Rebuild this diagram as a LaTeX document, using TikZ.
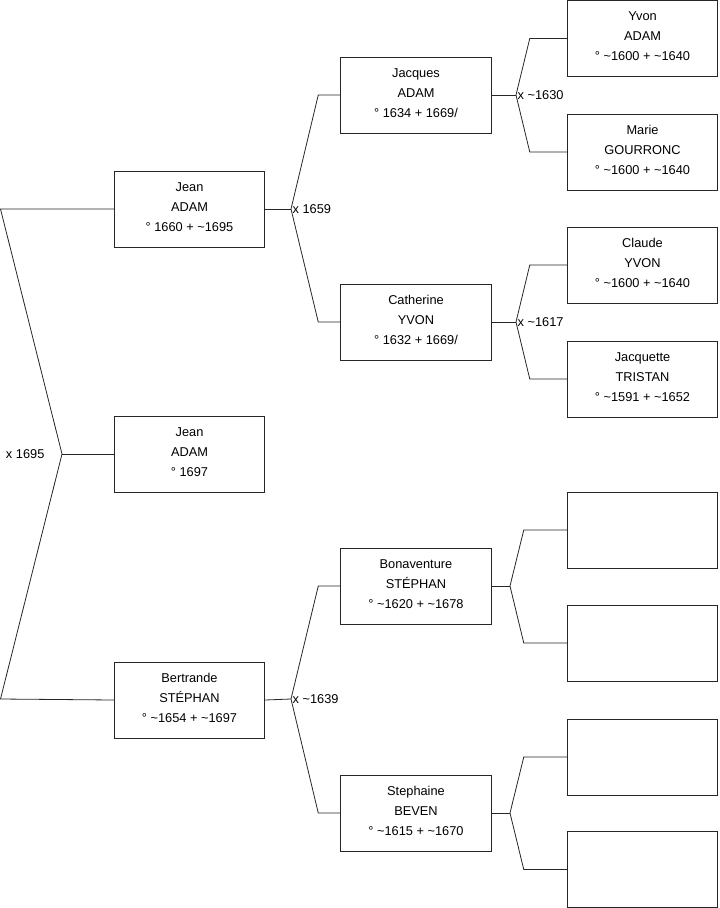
\documentclass[tikz,border=0pt]{standalone}
\usepackage{fontspec}
\setmainfont{Liberation Sans}
\usetikzlibrary{positioning}
\newcommand{\env}{\textasciitilde}

\begin{document}
\begin{tikzpicture}[
  x=0.75pt,y=-0.75pt,
  person/.style={draw=black!85,line width=0.6pt,fill=white,align=center,minimum width=113pt,minimum height=57pt,inner sep=0pt,text depth=3.5pt,font=\fontsize{9.6}{15}\selectfont},
  link/.style={draw=black!85,line width=0.6pt},
  union/.style={right,inner sep=1pt,font=\fontsize{9.6}{11}\selectfont}
]
\useasboundingbox (0,0) rectangle (719,908);
\node[person] (jean) at (189.5,209) {Jean\\ADAM\\° 1660 + \env1695};
\node[person] (enfant) at (189.5,454) {Jean\\ADAM\\° 1697};
\node[person] (bertrande) at (189.5,700) {Bertrande\\STÉPHAN\\° \env1654 + \env1697};
\node[person] (jacques) at (416,95) {Jacques\\ADAM\\° 1634 + 1669/};
\node[person] (catherine) at (416,322) {Catherine\\YVON\\° 1632 + 1669/};
\node[person] (bonaventure) at (416,586) {Bonaventure\\STÉPHAN\\° \env1620 + \env1678};
\node[person] (stephaine) at (416,813) {Stephaine\\BEVEN\\° \env1615 + \env1670};
\node[person] (yvon) at (642.5,38.5) {Yvon\\ADAM\\° \env1600 + \env1640};
\node[person] (marie) at (642.5,152) {Marie\\GOURRONC\\° \env1600 + \env1640};
\node[person] (claude) at (642.5,265) {Claude\\YVON\\° \env1600 + \env1640};
\node[person] (jacquette) at (642.5,379) {Jacquette\\TRISTAN\\° \env1591 + \env1652};
\node[person] (inc1) at (642.5,530) {};
\node[person] (inc2) at (642.5,643) {};
\node[person] (inc3) at (642.5,757) {};
\node[person] (inc4) at (642.5,869.5) {};
\coordinate (r1) at (0.5,209);
\coordinate (r2) at (0.5,699);
\coordinate (m0) at (62,454);
\coordinate (m1) at (291,209);
\coordinate (m2) at (516,95);
\coordinate (m3) at (516,322);
\coordinate (m4) at (291,699);
\coordinate (m5) at (510,586);
\coordinate (m6) at (510,813);
\draw[link] (jean.west) -- (r1) -- (m0) -- (r2) -- (bertrande.west);
\draw[link] (m0) -- (enfant.west);
\node[left,inner sep=1pt,font=\fontsize{9.6}{11}\selectfont] (u0) at ([xshift=-12pt]m0) {x 1695};
\foreach \p/\m/\a/\b/\d in {jean/m1/jacques/catherine/22,bertrande/m4/bonaventure/stephaine/22,jacques/m2/yvon/marie/37,catherine/m3/claude/jacquette/37,bonaventure/m5/inc1/inc2/43,stephaine/m6/inc3/inc4/43}{
  \draw[link] (\p.east) -- (\m);
  \draw[link] (\a.west) -- +(-\d,0) -- (\m) -- ([xshift=-\d*0.75pt]\b.west) -- (\b.west);
}
\node[union] (u1) at (m1) {x 1659};
\node[union] (u2) at (m2) {x \env1630};
\node[union] (u3) at (m3) {x \env1617};
\node[union] (u4) at (m4) {x \env1639};
\end{tikzpicture}
\end{document}
